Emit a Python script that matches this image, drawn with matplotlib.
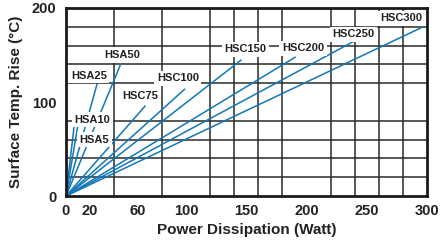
import matplotlib
matplotlib.use("Agg")
import matplotlib.pyplot as plt
from matplotlib.ticker import MultipleLocator, FixedLocator

plt.rcParams['font.family'] = ['Liberation Sans', 'DejaVu Sans']

# Data: each line runs from the origin to its end point
models = ["HSA5", "HSA10", "HSA25", "HSA50", "HSC75", "HSC100",
          "HSC150", "HSC200", "HSC250", "HSC300"]
power_end = [8, 10.5, 26, 47, 66, 99, 146, 191, 240, 297]     # Watt
temp_end = [88, 80, 120, 145, 96, 114, 145, 148, 165, 180]    # deg C

xtick_vals = [0, 20, 60, 100, 150, 200, 250, 300]
ytick_vals = [0, 100, 200]

# label centre positions (layout)
label_pos = {
    "HSA5": (23.5, 60), "HSA10": (22, 81), "HSA25": (19, 128),
    "HSA50": (47, 150), "HSC75": (62, 106), "HSC100": (93, 125),
    "HSC150": (149, 156), "HSC200": (197, 157), "HSC250": (239, 172),
    "HSC300": (279, 189),
}

fig = plt.figure(figsize=(4.4, 2.42), dpi=100)
ax = fig.add_axes([0.15, 0.19, 0.82, 0.777])

line_color = "#1177b8"
for m, pe, te in zip(models, power_end, temp_end):
    ax.plot([0, pe], [0, te], color=line_color, lw=1.1, zorder=3,
            solid_capstyle='butt')
    lx, ly = label_pos[m]
    ax.text(lx, ly, m, ha='center', va='center', fontsize=8,
            fontweight='bold', color='#222222', zorder=5,
            bbox=dict(facecolor='white', edgecolor='none', pad=1.8))

ax.set_xlim(0, 300)
ax.set_ylim(0, 200)

ax.xaxis.set_major_locator(FixedLocator(xtick_vals))
ax.yaxis.set_major_locator(FixedLocator(ytick_vals))
ax.xaxis.set_minor_locator(MultipleLocator(20))
ax.yaxis.set_minor_locator(MultipleLocator(20))
ax.grid(which='minor', color='#2a2a2a', lw=1.1, zorder=1)
ax.grid(which='major', visible=False)
ax.set_axisbelow(True)
ax.tick_params(which='both', length=0)
ax.tick_params(axis='x', which='major', pad=6, labelsize=10.5)
ax.tick_params(axis='y', which='major', pad=7, labelsize=10.5)
for lab in ax.get_xticklabels() + ax.get_yticklabels():
    lab.set_fontweight('bold')
    lab.set_color('#222222')

for s in ax.spines.values():
    s.set_linewidth(2.0)
    s.set_color('#1a1a1a')
    s.set_zorder(6)

ax.set_xlabel("Power Dissipation (Watt)", fontsize=11, fontweight='bold',
              color='#222222', labelpad=3)
ax.set_ylabel("Surface Temp. Rise (°C)", fontsize=11, fontweight='bold',
              color='#222222', labelpad=6)

fig.savefig("out.png", dpi=100)
